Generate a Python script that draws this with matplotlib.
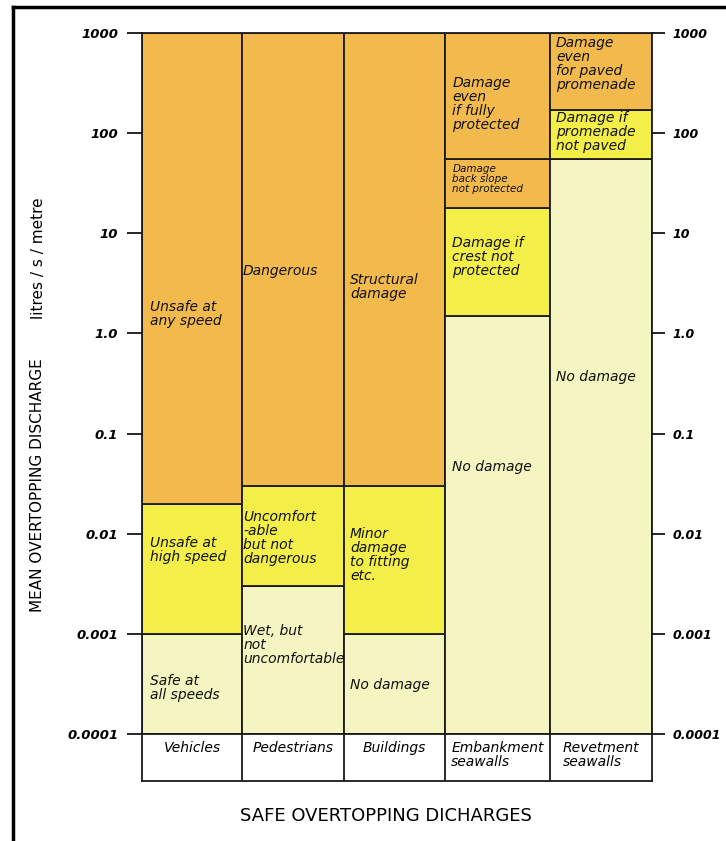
import numpy as np
import matplotlib.pyplot as plt
from matplotlib.patches import Rectangle
from matplotlib.lines import Line2D

plt.rcParams['font.family'] = 'DejaVu Sans'

# Columns of the chart
categories = ['Vehicles', 'Pedestrians', 'Buildings', 'Embankment\nseawalls', 'Revetment\nseawalls']

# Axis ticks (litres / s / metre)
tick_values = [0.0001, 0.001, 0.01, 0.1, 1.0, 10, 100, 1000]
tick_labels = ['0.0001', '0.001', '0.01', '0.1', '1.0', '10', '100', '1000']

# Zone boundaries, bottom to top, for each column
vehicle_bounds = [0.0001, 0.001, 0.02, 1000]
pedestrian_bounds = [0.0001, 0.003, 0.03, 1000]
building_bounds = [0.0001, 0.001, 0.03, 1000]
embankment_bounds = [0.0001, 1.5, 18, 55, 1000]
revetment_bounds = [0.0001, 55, 170, 1000]

# Severity level of each zone (0 = safe, 1 = caution, 2 = danger)
vehicle_levels = [0, 1, 2]
pedestrian_levels = [0, 1, 2]
building_levels = [0, 1, 2]
embankment_levels = [0, 1, 2, 2]
revetment_levels = [0, 1, 2]

# Zone descriptions
vehicle_text = ['Safe at\nall speeds', 'Unsafe at\nhigh speed', 'Unsafe at\nany speed']
pedestrian_text = ['Wet, but\nnot\nuncomfortable', 'Uncomfort\n-able\nbut not\ndangerous', 'Dangerous']
building_text = ['No damage', 'Minor\ndamage\nto fitting\netc.', 'Structural\ndamage']
embankment_text = ['No damage', 'Damage if\ncrest not\nprotected', 'Damage\nback slope\nnot protected',
                   'Damage\neven\nif fully\nprotected']
revetment_text = ['No damage', 'Damage if\npromenade\nnot paved', 'Damage\neven\nfor paved\npromenade']

# ---- layout only below here ----
level_colors = ['#f4f5c0', '#f4ef48', '#f2ba4c']
text_logy = [[-3.54, -2.16, 0.19],
             [-3.11, -2.04, 0.62],
             [-3.51, -2.21, 0.46],
             [-1.33, 0.76, 1.54, 2.29],
             [-0.44, 2.01, 2.69]]
text_dx = [0.08, 0.01, 0.06, 0.07, 0.06]
col_edges = [142, 242, 344, 445, 550, 652]

columns = [
    (vehicle_bounds, vehicle_levels, vehicle_text),
    (pedestrian_bounds, pedestrian_levels, pedestrian_text),
    (building_bounds, building_levels, building_text),
    (embankment_bounds, embankment_levels, embankment_text),
    (revetment_bounds, revetment_levels, revetment_text),
]

W, H = 726, 841
fig = plt.figure(figsize=(W / 100, H / 100), dpi=100)
fig.patch.set_facecolor('white')

x0, x1 = col_edges[0], col_edges[-1]
y_top, y_bot = 33, 734
ax = fig.add_axes([x0 / W, 1 - y_bot / H, (x1 - x0) / W, (y_bot - y_top) / H])
ax.set_yscale('log')
ax.set_xlim(x0, x1)
ax.set_ylim(tick_values[0], tick_values[-1])

for c, (bounds, levels, texts) in enumerate(columns):
    left, width = col_edges[c], col_edges[c + 1] - col_edges[c]
    for k, lv in enumerate(levels):
        ax.add_patch(Rectangle((left, bounds[k]), width, bounds[k + 1] - bounds[k],
                               facecolor=level_colors[lv], edgecolor='#1a1a1a', lw=1.3))
        fs = 7.5 if texts[k].startswith('Damage\nback') else 10
        ax.text(left + text_dx[c] * width, 10 ** text_logy[c][k], texts[k], ha='left', va='center',
                fontsize=fs, style='italic', linespacing=1.0, color='#111')

ax.set_xticks([])
ax.minorticks_off()
ax.set_yticks(tick_values)
ax.set_yticklabels(tick_labels)
ax.tick_params(axis='y', which='both', direction='out', length=11, width=1.2, pad=6,
               labelsize=9.5)
for lab in ax.get_yticklabels():
    lab.set_fontstyle('italic')
    lab.set_fontweight('bold')
for s in ax.spines.values():
    s.set_linewidth(1.3)
    s.set_color('#1a1a1a')

ax2 = ax.twinx()
ax2.set_yscale('log')
ax2.set_ylim(tick_values[0], tick_values[-1])
ax2.minorticks_off()
ax2.set_yticks(tick_values)
ax2.set_yticklabels(tick_labels)
ax2.tick_params(axis='y', which='both', direction='out', length=9, width=1.2, pad=6,
                labelsize=9)
for lab in ax2.get_yticklabels():
    lab.set_fontstyle('italic')
    lab.set_fontweight('bold')
for s in ax2.spines.values():
    s.set_visible(False)

# category label row
row_bot = 781
axc = fig.add_axes([x0 / W, 1 - row_bot / H, (x1 - x0) / W, (row_bot - y_bot) / H])
axc.set_xlim(x0, x1)
axc.set_ylim(0, 1)
axc.set_xticks([])
axc.set_yticks([])
for s in axc.spines.values():
    s.set_linewidth(1.3)
    s.set_color('#1a1a1a')
for c, name in enumerate(categories):
    if c > 0:
        axc.axvline(col_edges[c], color='#1a1a1a', lw=1.3)
    axc.text((col_edges[c] + col_edges[c + 1]) / 2, 0.85, name, ha='center', va='top',
             multialignment='left', fontsize=10, style='italic', linespacing=1.0)

# axis titles
fig.text(38 / W, 1 - 485 / H, 'MEAN OVERTOPPING DISCHARGE', rotation=90,
         ha='center', va='center', fontsize=11)
fig.text(38 / W, 1 - 258 / H, 'litres / s / metre', rotation=90,
         ha='center', va='center', fontsize=11)
fig.text(386 / W, 1 - 816 / H, 'SAFE OVERTOPPING DICHARGES', ha='center', va='center',
         fontsize=13)

# outer frame (top and left edges visible)
fig.add_artist(Line2D([13 / W, 1.0], [1 - 7 / H, 1 - 7 / H], color='black', lw=2.5))
fig.add_artist(Line2D([13 / W, 13 / W], [0.0, 1 - 7 / H], color='black', lw=2.5))

fig.savefig('out.png', dpi=100)
